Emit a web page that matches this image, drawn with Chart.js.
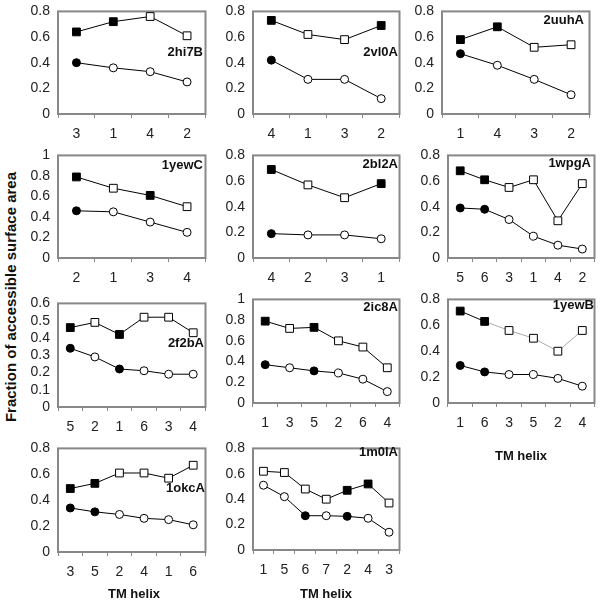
<!DOCTYPE html>
<html>
<head>
<meta charset="utf-8">
<script src="https://cdn.jsdelivr.net/npm/chart.js@4/dist/chart.umd.min.js"></script>
<style>
body { margin: 0; background: #fff; width: 600px; height: 600px; position: relative; overflow: hidden; font-family: "Liberation Sans", Arial, sans-serif; }
.p { position: absolute; }
.lab { position: absolute; font-weight: bold; font-size: 13px; color: #111; line-height: 16px; white-space: nowrap; }
.ttl { position: absolute; font-weight: bold; font-size: 13px; color: #111; white-space: nowrap; transform: translate(-50%, -50%); }
#ytitle { position: absolute; left: 10px; top: 297px; font-weight: bold; font-size: 15px; color: #111; white-space: nowrap; transform: translate(-50%, -50%) rotate(-90deg); }
</style>
</head>
<body>
<div id="ytitle">Fraction of accessible surface area</div>
<script>
// helix order, square series (upper), circle series (lower), filled flags
const helix2hi7B = ['3', '1', '4', '2'];
const sq2hi7B = [0.64, 0.72, 0.76, 0.61];
const sqFill2hi7B = [1, 1, 0, 0];
const ci2hi7B = [0.40, 0.36, 0.33, 0.25];
const ciFill2hi7B = [1, 0, 0, 0];

const helix2vl0A = ['4', '1', '3', '2'];
const sq2vl0A = [0.73, 0.62, 0.58, 0.69];
const sqFill2vl0A = [1, 0, 0, 1];
const ci2vl0A = [0.42, 0.27, 0.27, 0.12];
const ciFill2vl0A = [1, 0, 0, 0];

const helix2uuhA = ['1', '4', '3', '2'];
const sq2uuhA = [0.58, 0.68, 0.52, 0.54];
const sqFill2uuhA = [1, 1, 0, 0];
const ci2uuhA = [0.47, 0.38, 0.27, 0.15];
const ciFill2uuhA = [1, 0, 0, 0];

const helix1yewC = ['2', '1', '3', '4'];
const sq1yewC = [0.79, 0.68, 0.61, 0.50];
const sqFill1yewC = [1, 0, 1, 0];
const ci1yewC = [0.46, 0.45, 0.35, 0.25];
const ciFill1yewC = [1, 0, 0, 0];

const helix2bl2A = ['4', '2', '3', '1'];
const sq2bl2A = [0.69, 0.57, 0.47, 0.58];
const sqFill2bl2A = [1, 0, 0, 1];
const ci2bl2A = [0.19, 0.18, 0.18, 0.15];
const ciFill2bl2A = [1, 0, 0, 0];

const helix1wpgA = ['5', '6', '3', '1', '4', '2'];
const sq1wpgA = [0.68, 0.61, 0.55, 0.61, 0.29, 0.58];
const sqFill1wpgA = [1, 1, 0, 0, 0, 0];
const ci1wpgA = [0.39, 0.38, 0.30, 0.17, 0.10, 0.07];
const ciFill1wpgA = [1, 1, 0, 0, 0, 0];

const helix2f2bA = ['5', '2', '1', '6', '3', '4'];
const sq2f2bA = [0.46, 0.49, 0.42, 0.52, 0.52, 0.43];
const sqFill2f2bA = [1, 0, 1, 0, 0, 0];
const ci2f2bA = [0.34, 0.29, 0.22, 0.21, 0.19, 0.19];
const ciFill2f2bA = [1, 0, 1, 0, 0, 0];

const helix2ic8A = ['1', '3', '5', '2', '6', '4'];
const sq2ic8A = [0.79, 0.72, 0.73, 0.60, 0.54, 0.34];
const sqFill2ic8A = [1, 0, 1, 0, 0, 0];
const ci2ic8A = [0.37, 0.34, 0.31, 0.29, 0.23, 0.11];
const ciFill2ic8A = [1, 0, 1, 0, 0, 0];

const helix1yewB = ['1', '6', '3', '5', '2', '4'];
const sq1yewB = [0.71, 0.63, 0.56, 0.50, 0.40, 0.56];
const sqFill1yewB = [1, 1, 0, 0, 0, 0];
const ci1yewB = [0.29, 0.24, 0.22, 0.22, 0.19, 0.13];
const ciFill1yewB = [1, 1, 0, 0, 0, 0];

const helix1okcA = ['3', '5', '2', '4', '1', '6'];
const sq1okcA = [0.49, 0.53, 0.61, 0.61, 0.57, 0.67];
const sqFill1okcA = [1, 1, 0, 0, 0, 0];
const ci1okcA = [0.34, 0.31, 0.29, 0.26, 0.25, 0.21];
const ciFill1okcA = [1, 1, 0, 0, 0, 0];

const helix1m0lA = ['1', '5', '6', '7', '2', '4', '3'];
const sq1m0lA = [0.62, 0.61, 0.48, 0.40, 0.47, 0.52, 0.37];
const sqFill1m0lA = [0, 0, 0, 0, 1, 1, 0];
const ci1m0lA = [0.51, 0.42, 0.27, 0.27, 0.265, 0.25, 0.14];
const ciFill1m0lA = [0, 0, 1, 0, 1, 0, 0];

Chart.defaults.font.family = '"Liberation Sans", Arial, sans-serif';
Chart.defaults.font.size = 14;
Chart.defaults.color = '#222';

const frame = {
    id: 'frame',
    beforeDatasetsDraw(chart) {
        const a = chart.chartArea, ctx = chart.ctx;
        ctx.save();
        ctx.strokeStyle = '#888';
        ctx.lineWidth = 2;
        ctx.strokeRect(a.left, a.top, a.right - a.left, a.bottom - a.top);
        ctx.restore();
    }
};

const fillColor = (flags) => flags.map(f => f ? '#000' : '#fff');

function panel(name, box, helix, sq, sqFill, ci, ciFill, ymax, step, lab, grayFrom) {
    const [L, T, R, B] = box;
    const padL = 42, padT = 10, padB = 32, padR = 4;
    const div = document.createElement('div');
    div.className = 'p';
    div.style.left = (L - padL) + 'px';
    div.style.top = (T - padT) + 'px';
    const cv = document.createElement('canvas');
    cv.width = R - L + padL + padR;
    cv.height = B - T + padT + padB;
    div.appendChild(cv);
    document.body.appendChild(div);

    const t = document.createElement('div');
    t.className = 'lab';
    t.textContent = name;
    t.style.right = (600 - lab[0]) + 'px';
    t.style.top = (lab[1] - 8) + 'px';
    document.body.appendChild(t);

    new Chart(cv.getContext('2d'), {
        type: 'line',
        data: {
            labels: helix,
            datasets: [{
                data: sq,
                borderColor: '#000',
                borderWidth: 1,
                pointStyle: 'rect',
                pointRadius: 5.5,
                pointBorderWidth: 1,
                pointBorderColor: '#000',
                pointBackgroundColor: fillColor(sqFill),
                segment: {
                    borderColor: c => (grayFrom != null && c.p0DataIndex >= grayFrom) ? '#aaa' : '#000'
                }
            }, {
                data: ci,
                borderColor: '#000',
                borderWidth: 1,
                pointStyle: 'circle',
                pointRadius: 4,
                pointBorderWidth: 1,
                pointBorderColor: '#000',
                pointBackgroundColor: fillColor(ciFill)
            }]
        },
        options: {
            responsive: false,
            animation: false,
            layout: { padding: { top: padT, right: padR, left: 0, bottom: 0 } },
            plugins: { legend: { display: false }, tooltip: { enabled: false } },
            scales: {
                x: {
                    offset: true,
                    grid: { offset: true, drawOnChartArea: false, drawTicks: true, tickLength: 4, color: '#888' },
                    border: { display: false },
                    ticks: { padding: 8, maxRotation: 0 },
                    afterFit: s => { s.height = padB; }
                },
                y: {
                    min: 0,
                    max: ymax,
                    grid: { display: false, drawTicks: false },
                    border: { display: false },
                    ticks: {
                        stepSize: step,
                        padding: 8,
                        autoSkip: false,
                        callback: v => String(Math.round(v * 10) / 10)
                    },
                    afterFit: s => { s.width = padL; }
                }
            }
        },
        plugins: [frame]
    });
}

panel('2hi7B', [58, 5, 208, 114], helix2hi7B, sq2hi7B, sqFill2hi7B, ci2hi7B, ciFill2hi7B, 0.8, 0.2, [203, 52]);
panel('2vl0A', [253, 5, 402, 114], helix2vl0A, sq2vl0A, sqFill2vl0A, ci2vl0A, ciFill2vl0A, 0.8, 0.2, [398, 52]);
panel('2uuhA', [442, 5, 592, 114], helix2uuhA, sq2uuhA, sqFill2uuhA, ci2uuhA, ciFill2uuhA, 0.8, 0.2, [584, 20]);
panel('1yewC', [58, 149, 208, 258], helix1yewC, sq1yewC, sqFill1yewC, ci1yewC, ciFill1yewC, 1, 0.2, [203, 165]);
panel('2bl2A', [253, 149, 402, 258], helix2bl2A, sq2bl2A, sqFill2bl2A, ci2bl2A, ciFill2bl2A, 0.8, 0.2, [398, 164]);
panel('1wpgA', [448, 149, 597, 258], helix1wpgA, sq1wpgA, sqFill1wpgA, ci1wpgA, ciFill1wpgA, 0.8, 0.2, [591, 163]);
panel('2f2bA', [58, 297, 208, 407], helix2f2bA, sq2f2bA, sqFill2f2bA, ci2f2bA, ciFill2f2bA, 0.6, 0.1, [204, 343]);
panel('2ic8A', [253, 293, 402, 403], helix2ic8A, sq2ic8A, sqFill2ic8A, ci2ic8A, ciFill2ic8A, 1, 0.2, [398, 307]);
panel('1yewB', [448, 293, 597, 403], helix1yewB, sq1yewB, sqFill1yewB, ci1yewB, ciFill1yewB, 0.8, 0.2, [594, 305], 1);
panel('1okcA', [58, 442, 208, 552], helix1okcA, sq1okcA, sqFill1okcA, ci1okcA, ciFill1okcA, 0.8, 0.2, [205, 488]);
panel('1m0lA', [253, 442, 402, 550], helix1m0lA, sq1m0lA, sqFill1m0lA, ci1m0lA, ciFill1m0lA, 0.8, 0.2, [398, 452]);

[[134, 593], [326, 593], [521, 455]].forEach(([x, y]) => {
    const d = document.createElement('div');
    d.className = 'ttl';
    d.textContent = 'TM helix';
    d.style.left = x + 'px';
    d.style.top = y + 'px';
    document.body.appendChild(d);
});
</script>
</body>
</html>
